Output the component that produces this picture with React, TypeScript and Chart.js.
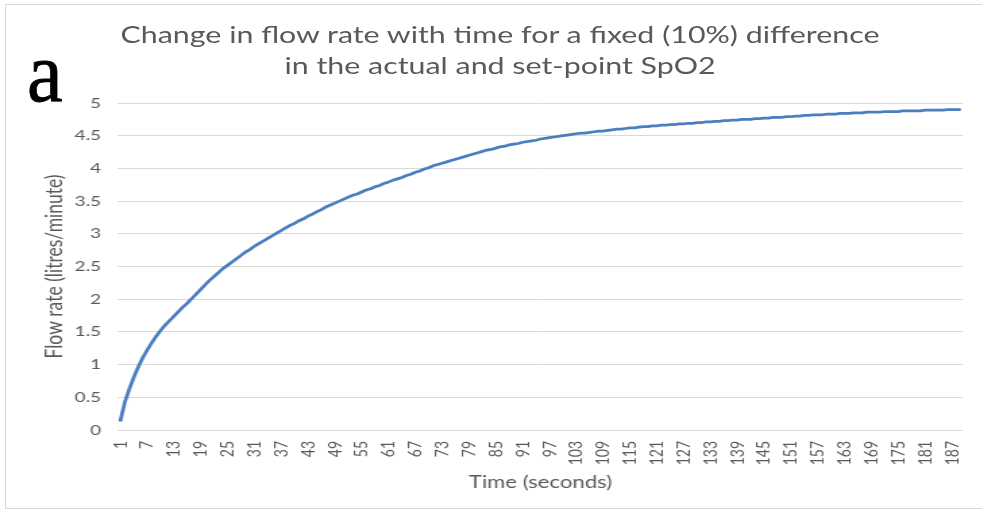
import React, { useEffect, useRef } from "react";
import { Chart, registerables } from "chart.js";

Chart.register(...registerables);

// Categories: time in seconds (1..189)
const timeSeconds: string[] = Array.from({ length: 189 }, (_, i) => String(i + 1));

// Flow rate (litres/minute)
const flowRate: number[] = [
  0.13, 0.42, 0.62, 0.8, 0.96, 1.1, 1.22, 1.33, 1.43, 1.52,
  1.6, 1.67, 1.74, 1.81, 1.88, 1.94, 2.01, 2.08, 2.15, 2.22,
  2.29, 2.35, 2.41, 2.47, 2.52, 2.57, 2.62, 2.67, 2.72, 2.76,
  2.81, 2.85, 2.89, 2.93, 2.97, 3.01, 3.05, 3.09, 3.13, 3.16,
  3.2, 3.23, 3.27, 3.3, 3.34, 3.37, 3.41, 3.44, 3.47, 3.5,
  3.53, 3.56, 3.59, 3.61, 3.64, 3.67, 3.69, 3.72, 3.74, 3.77,
  3.79, 3.82, 3.84, 3.86, 3.89, 3.91, 3.94, 3.96, 3.99, 4.01,
  4.04, 4.06, 4.08, 4.1, 4.12, 4.14, 4.16, 4.18, 4.2, 4.22,
  4.24, 4.26, 4.28, 4.29, 4.31, 4.33, 4.34, 4.36, 4.37, 4.38,
  4.4, 4.41, 4.42, 4.43, 4.45, 4.46, 4.47, 4.48, 4.49, 4.5,
  4.51, 4.52, 4.53, 4.54, 4.54, 4.55, 4.56, 4.57, 4.57, 4.58,
  4.59, 4.6, 4.6, 4.61, 4.62, 4.62, 4.63, 4.64, 4.64, 4.65,
  4.65, 4.66, 4.66, 4.67, 4.67, 4.68, 4.68, 4.69, 4.69, 4.7,
  4.7, 4.71, 4.71, 4.72, 4.72, 4.73, 4.73, 4.74, 4.74, 4.75,
  4.75, 4.75, 4.76, 4.76, 4.77, 4.77, 4.78, 4.78, 4.78, 4.79,
  4.79, 4.8, 4.8, 4.81, 4.81, 4.82, 4.82, 4.82, 4.83, 4.83,
  4.83, 4.84, 4.84, 4.84, 4.85, 4.85, 4.85, 4.86, 4.86, 4.86,
  4.86, 4.87, 4.87, 4.87, 4.87, 4.88, 4.88, 4.88, 4.88, 4.88,
  4.89, 4.89, 4.89, 4.89, 4.89, 4.9, 4.9, 4.9, 4.9,
];

const yMin = 0;
const yMax = 5;
const yStep = 0.5;
const xLabelEvery = 6;

const titleLines: string[] = [
  "Change in flow rate with time for a fixed (10%) difference",
  "in the actual and set-point SpO2",
];
const xTitle = "Time (seconds)";
const yTitle = "Flow rate (litres/minute)";
const panelLabel = "a";

// The reference is horizontally stretched; render narrower and stretch.
const SX = 1.35;
const W = Math.round(982 / SX);
const H = 512;
const TEXT = "#595959";
const GRID = "#d9d9d9";

export default function App() {
  const ref = useRef<HTMLCanvasElement>(null);

  useEffect(() => {
    if (!ref.current) return;
    const chart = new Chart(ref.current, {
      type: "line",
      data: {
        labels: timeSeconds,
        datasets: [
          {
            data: flowRate,
            borderColor: "#4a7ebf",
            borderWidth: 2.75,
            pointRadius: 0,
            tension: 0,
            fill: false,
          },
        ],
      },
      options: {
        responsive: false,
        animation: false,
        devicePixelRatio: 1,
        layout: { padding: { top: 103, right: W - 963 / SX, left: 0, bottom: 0 } },
        plugins: {
          legend: { display: false },
          tooltip: { enabled: false },
          title: { display: false },
        },
        scales: {
          x: {
            type: "category",
            offset: true,
            grid: { display: false, drawTicks: false },
            border: { display: false },
            ticks: {
              autoSkip: false,
              maxRotation: 90,
              minRotation: 90,
              padding: 11,
              color: TEXT,
              font: { family: "Lato", size: 14 },
              callback: (_v: any, i: number) => (i % xLabelEvery === 0 ? timeSeconds[i] : null),
            },
            title: {
              display: true,
              text: xTitle,
              color: TEXT,
              font: { family: "Lato", size: 16.4 },
              padding: { top: 0, bottom: 19 },
            },
            afterFit: (s: any) => {
              s.height = H - 430;
              s.paddingLeft = 0;
              s.paddingRight = 0;
            },
          },
          y: {
            min: yMin,
            max: yMax,
            ticks: {
              stepSize: yStep,
              padding: 12.6,
              color: TEXT,
              font: { family: "Lato", size: 14 },
              callback: (v: any) => String(Math.round(Number(v) * 10) / 10),
            },
            grid: { color: GRID, drawTicks: false, lineWidth: 1 },
            border: { display: false },
            title: {
              display: true,
              text: yTitle,
              color: TEXT,
              font: { family: "Lato", size: 17.5 },
              padding: { top: 30, bottom: 0 },
            },
            afterFit: (s: any) => {
              s.width = 118 / SX;
            },
          },
        },
      },
    });
    return () => chart.destroy();
  }, []);

  return (
    <div
      style={{
        position: "fixed",
        left: 0,
        top: 0,
        width: 982,
        height: 512,
        background: "#fff",
        overflow: "hidden",
      }}
    >
      <div
        style={{
          position: "absolute",
          left: 5,
          top: 4,
          width: 1000,
          height: 503,
          border: `1px solid ${GRID}`,
        }}
      />
      <div
        style={{
          position: "absolute",
          left: 0,
          top: 0,
          width: W,
          height: H,
          transform: `scaleX(${SX})`,
          transformOrigin: "0 0",
        }}
      >
        <canvas ref={ref} width={W} height={H} style={{ display: "block" }} />
        <div
          style={{
            position: "absolute",
            left: 0,
            top: 19,
            width: (500 / SX) * 2,
            textAlign: "center",
            fontFamily: "Lato",
            fontSize: 22.5,
            lineHeight: "31px",
            color: TEXT,
            whiteSpace: "nowrap",
          }}
        >
          {titleLines.map((t, i) => (
            <div key={i}>{t}</div>
          ))}
        </div>
      </div>
      <div
        style={{
          position: "absolute",
          left: 27,
          top: 31,
          fontFamily: "'Liberation Serif', serif",
          fontSize: 66,
          lineHeight: "66px",
          color: "#000",
          WebkitTextStroke: "0.6px #000",
          transform: "scale(1.22, 1.27)",
          transformOrigin: "0 0",
        }}
      >
        {panelLabel}
      </div>
    </div>
  );
}
